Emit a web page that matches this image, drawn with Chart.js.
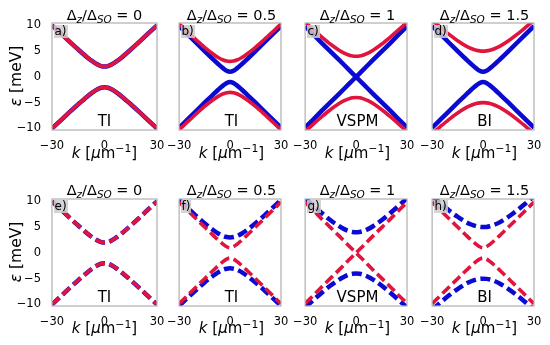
<!DOCTYPE html>
<html><head><meta charset="utf-8">
<script src="https://cdn.jsdelivr.net/npm/chart.js@4.4.1/dist/chart.umd.min.js"></script>
<style>
html,body{margin:0;padding:0;background:#fff;}
body{width:550px;height:345px;overflow:hidden;position:relative;font-family:"DejaVu Sans",sans-serif;}
.pane{position:absolute;}
.txt{position:absolute;white-space:nowrap;color:#000;transform:translate(-50%,-50%);line-height:1;}
.sub{font-size:0.72em;position:relative;top:0.32em;}
.sup{font-size:0.72em;position:relative;top:-0.5em;}
.tag{position:absolute;font-size:12px;line-height:13px;background:rgba(205,205,205,0.85);padding:0 1px 0 1px;color:#000;}
</style></head><body>
<script>
// ---- data ----
const kValues   = [-30, -25, -20, -15, -10, -7, -4, -2, 0, 2, 4, 7, 10, 15, 20, 25, 30];
// energy bands (meV) for each gap size: upper and lower branches
const gap0Up    = [9.8, 8.2, 6.5, 4.9, 3.3, 2.3, 1.3, 0.65, 0, 0.65, 1.3, 2.3, 3.3, 4.9, 6.5, 8.2, 9.8];
const gap0Down  = [-9.8, -8.2, -6.5, -4.9, -3.3, -2.3, -1.3, -0.65, 0, -0.65, -1.3, -2.3, -3.3, -4.9, -6.5, -8.2, -9.8];
const gap1Up    = [9.86, 8.24, 6.62, 5.01, 3.42, 2.5, 1.65, 1.19, 1.0, 1.19, 1.65, 2.5, 3.42, 5.01, 6.62, 8.24, 9.86];
const gap1Down  = [-9.86, -8.24, -6.62, -5.01, -3.42, -2.5, -1.65, -1.19, -1.0, -1.19, -1.65, -2.5, -3.42, -5.01, -6.62, -8.24, -9.86];
const gap2Up    = [10.0, 8.42, 6.84, 5.3, 3.83, 3.04, 2.39, 2.1, 2.0, 2.1, 2.39, 3.04, 3.83, 5.3, 6.84, 8.42, 10.0];
const gap2Down  = [-10.0, -8.42, -6.84, -5.3, -3.83, -3.04, -2.39, -2.1, -2.0, -2.1, -2.39, -3.04, -3.83, -5.3, -6.84, -8.42, -10.0];
const gap3Up    = [10.26, 8.71, 7.19, 5.74, 4.44, 3.77, 3.27, 3.07, 3.0, 3.07, 3.27, 3.77, 4.44, 5.74, 7.19, 8.71, 10.26];
const gap3Down  = [-10.26, -8.71, -7.19, -5.74, -4.44, -3.77, -3.27, -3.07, -3.0, -3.07, -3.27, -3.77, -4.44, -5.74, -7.19, -8.71, -10.26];
const gap4Up    = [10.59, 9.1, 7.67, 6.33, 5.17, 4.61, 4.21, 4.05, 4.0, 4.05, 4.21, 4.61, 5.17, 6.33, 7.67, 9.1, 10.59];
const gap4Down  = [-10.59, -9.1, -7.67, -6.33, -5.17, -4.61, -4.21, -4.05, -4.0, -4.05, -4.21, -4.61, -5.17, -6.33, -7.67, -9.1, -10.59];
const gap5Up    = [11.01, 9.59, 8.23, 7.01, 5.97, 5.5, 5.17, 5.04, 5.0, 5.04, 5.17, 5.5, 5.97, 7.01, 8.23, 9.59, 11.01];
const gap5Down  = [-11.01, -9.59, -8.23, -7.01, -5.97, -5.5, -5.17, -5.04, -5.0, -5.04, -5.17, -5.5, -5.97, -7.01, -8.23, -9.59, -11.01];

const ratioLabels  = ['0', '0.5', '1', '1.5'];
const phaseLabels  = ['TI', 'TI', 'VSPM', 'BI'];
const panelLetters = ['a)', 'b)', 'c)', 'd)', 'e)', 'f)', 'g)', 'h)'];
const xTickValues  = [-30, 0, 30];
const xTickLabels  = ['\u221230', '0', '30'];
const yTickValues  = [-10, -5, 0, 5, 10];
const yTickLabels  = ['\u221210', '\u22125', '0', '5', '10'];

// which bands are red / blue in each panel (top row solid, bottom row dashed)
const topRedBands     = [[gap2Up, gap2Down], [gap3Up, gap3Down], [gap4Up, gap4Down], [gap5Up, gap5Down]];
const topBlueBands    = [[gap2Up, gap2Down], [gap1Up, gap1Down], [gap0Up, gap0Down], [gap1Up, gap1Down]];
const bottomRedBands  = [[gap2Up, gap2Down], [gap1Up, gap1Down], [gap0Up, gap0Down], [gap1Up, gap1Down]];
const bottomBlueBands = [[gap2Up, gap2Down], [gap3Up, gap3Down], [gap4Up, gap4Down], [gap5Up, gap5Down]];

// ---- layout / style ----
const RED = '#e0143c', BLUE = '#0a0ad2';
const panelLefts = [52, 179, 305, 432];
const panelTops  = [23, 198.5];
const PW = 105, PH = 106.5;
const padT = 10, padR = 16, axisH = 22, yAxisW = 52, padLOther = 10;
const font = {family: 'DejaVu Sans', size: 11.5};

const framePlugin = {
  id: 'frame',
  afterDatasetsDraw(chart) {
    const {ctx, chartArea: a} = chart;
    ctx.save();
    ctx.strokeStyle = '#b0b0b0';
    ctx.lineWidth = 1.2;
    ctx.strokeRect(a.left, a.top, a.width, a.height);
    ctx.restore();
  }
};

function series(arr) { return kValues.map((k, i) => ({x: k, y: arr[i]})); }
function isDirac(arr) { return arr === gap0Up || arr === gap0Down; }

function addText(html, x, y, size, extra) {
  const d = document.createElement('div');
  d.className = 'txt';
  d.style.left = x + 'px';
  d.style.top = y + 'px';
  d.style.fontSize = size + 'px';
  if (extra) Object.assign(d.style, extra);
  d.innerHTML = html;
  document.body.appendChild(d);
  return d;
}

function makePanel(row, col) {
  const L = panelLefts[col], T = panelTops[row];
  const padL = col === 0 ? 0 : padLOther;
  const leftSpace = col === 0 ? yAxisW : padLOther;
  const w = Math.round(leftSpace + PW + padR), h = Math.round(padT + PH + axisH);
  const div = document.createElement('div');
  div.className = 'pane';
  div.style.width = w + 'px'; div.style.height = h + 'px';
  const cv = document.createElement('canvas');
  cv.width = w; cv.height = h;
  cv.style.width = w + 'px'; cv.style.height = h + 'px';
  div.appendChild(cv);
  document.body.appendChild(div);

  const dashed = row === 1;
  const redB = row === 0 ? topRedBands[col] : bottomRedBands[col];
  const blueB = row === 0 ? topBlueBands[col] : bottomBlueBands[col];
  const datasets = [];
  const mk = (arr, color, width, dash) => ({
    data: series(arr), borderColor: color, borderWidth: width,
    borderDash: dash ? [10, 4.5] : [], borderCapStyle: 'butt',
    fill: false, pointRadius: 0, clip: 0,
    tension: isDirac(arr) ? 0 : 0.4,
    cubicInterpolationMode: isDirac(arr) ? 'default' : 'monotone'
  });
  // Chart.js paints the first dataset on top: red first, blue underneath
  redB.forEach(a => datasets.push(mk(a, RED, 3.6, dashed)));
  blueB.forEach(a => datasets.push(mk(a, BLUE, 4.5, dashed)));

  const chart = new Chart(cv, {
    type: 'line',
    data: {datasets},
    options: {
      responsive: false, animation: false, devicePixelRatio: 1,
      layout: {padding: {top: padT, right: padR, left: padL, bottom: 0}},
      plugins: {legend: {display: false}, tooltip: {enabled: false}, title: {display: false}},
      scales: {
        x: {
          type: 'linear', min: -30, max: 30,
          grid: {display: false}, border: {display: false},
          ticks: {font, color: '#000', padding: 1, maxRotation: 0, autoSkip: false,
                  callback: v => xTickLabels[xTickValues.indexOf(v)]},
          afterBuildTicks: s => { s.ticks = xTickValues.map(v => ({value: v})); },
          afterFit: s => { s.height = axisH; }
        },
        y: {
          type: 'linear', min: -10.3, max: 10.45, display: col === 0,
          grid: {display: false}, border: {display: false},
          ticks: {font, color: '#000', padding: 3, autoSkip: false,
                  callback: v => yTickLabels[yTickValues.indexOf(v)]},
          afterBuildTicks: s => { s.ticks = yTickValues.map(v => ({value: v})); },
          afterFit: s => { s.width = col === 0 ? yAxisW : 0; }
        }
      }
    },
    plugins: [framePlugin]
  });
  const ca = chart.chartArea;
  div.style.left = (L - ca.left) + 'px';
  div.style.top = (T - ca.top) + 'px';

  // texts
  const cx = L + PW / 2;
  addText('\u0394<span class="sub"><i>z</i></span>/\u0394<span class="sub"><i>SO</i></span> = ' + ratioLabels[col],
          cx, T - 8.5, 14.5);
  addText(phaseLabels[col], cx, T + PH - 8.5, 15);
  addText('<i>k</i> [<i>\u03bc</i>m<span class="sup">\u22121</span>]', cx, T + PH + 23, 15);
  const tag = document.createElement('div');
  tag.className = 'tag';
  tag.style.left = (L + 1.5) + 'px';
  tag.style.top = (T + 1.5) + 'px';
  tag.textContent = panelLetters[row * 4 + col];
  document.body.appendChild(tag);
  if (col === 0) {
    addText('<i>\u03b5</i> [meV]', 17, T + PH / 2, 15.5, {transform: 'translate(-50%,-50%) rotate(-90deg)'});
  }
}

for (let r = 0; r < 2; r++) for (let c = 0; c < 4; c++) makePanel(r, c);
</script>
</body></html>
